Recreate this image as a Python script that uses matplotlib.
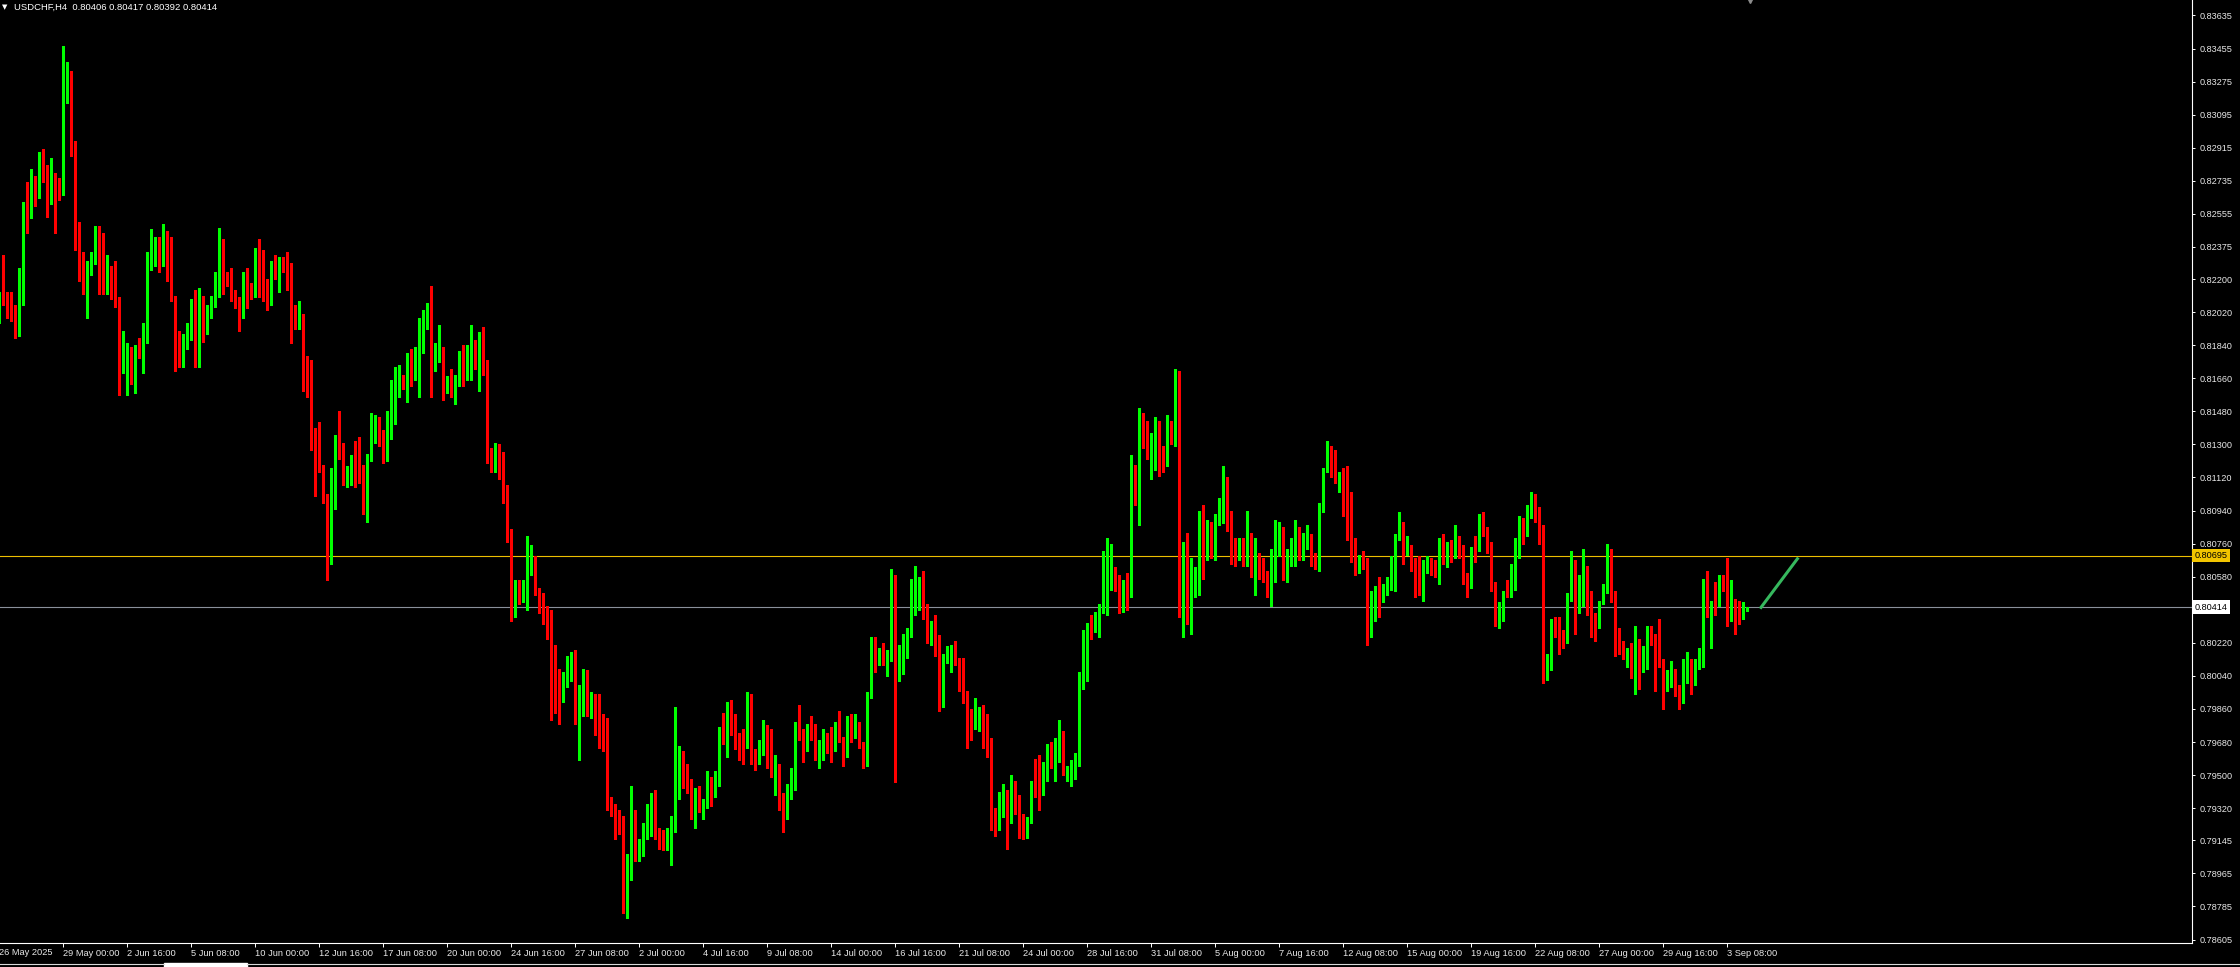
import matplotlib
matplotlib.use("Agg")
import matplotlib.pyplot as plt
import numpy as np
from matplotlib.patches import Rectangle
from matplotlib.lines import Line2D
from matplotlib.transforms import blended_transform_factory, offset_copy

plt.rcParams['font.family'] = ['Liberation Sans', 'DejaVu Sans']

symbol = "USDCHF"
timeframe = "H4"

# H4 bars, prices in pips (1 pip = 0.0001)
opens = [
    8199, 8211, 8210, 8207, 8202, 8197, 8216, 8260, 8253, 8273,
    8268, 8279, 8278, 8269, 8277, 8267, 8267, 8323, 8329, 8293,
    8241, 8224, 8221, 8225, 8228, 8240, 8238, 8217, 8219, 8218,
    8206, 8169, 8176, 8182, 8166, 8183, 8178, 8185, 8231, 8234,
    8236, 8229, 8242, 8238, 8209, 8178, 8178, 8187, 8193, 8198,
    8175, 8200, 8191, 8203, 8207, 8214, 8239, 8224, 8217, 8211,
    8207, 8203, 8215, 8212, 8213, 8235, 8218, 8211, 8207, 8227,
    8225, 8229, 8225, 8220, 8205, 8198, 8200, 8168, 8158, 8137,
    8125, 8118, 8102, 8076, 8099, 8132, 8129, 8113, 8110, 8118,
    8111, 8110, 8097, 8122, 8133, 8140, 8132, 8126, 8143, 8157,
    8161, 8165, 8162, 8178, 8174, 8177, 8181, 8202, 8203, 8172,
    8178, 8180, 8162, 8164, 8160, 8165, 8173, 8168, 8171, 8187,
    8172, 8182, 8173, 8124, 8120, 8130, 8112, 8102, 8081, 8042,
    8049, 8046, 8048, 8065, 8068, 8051, 8044, 8036, 8033, 8003,
    7993, 7992, 7998, 8005, 8011, 7982, 7988, 8001, 7985, 7987,
    7982, 7975, 7973, 7937, 7930, 7930, 7920, 7881, 7893, 7926,
    7907, 7913, 7919, 7922, 7931, 7918, 7911, 7911, 7918, 7927,
    7946, 7957, 7951, 7947, 7926, 7933, 7931, 7934, 7944, 7940,
    7947, 7973, 7970, 7987, 7980, 7971, 7970, 7965, 7991, 7958,
    7956, 7964, 7970, 7959, 7952, 7953, 7932, 7928, 7939, 7942,
    7974, 7974, 7964, 7977, 7972, 7958, 7963, 7967, 7968, 7965,
    7974, 7970, 7962, 7982, 7976, 7978, 7966, 7959, 7992, 8024,
    8012, 8015, 8012, 8016, 8051, 8002, 8006, 8014, 8026, 8042,
    8048, 8056, 8041, 8026, 8032, 8026, 7989, 8013, 8006, 8020,
    8013, 8007, 7994, 7981, 7975, 7982, 7983, 7972, 7964, 7930,
    7920, 7936, 7942, 7925, 7940, 7939, 7922, 7918, 7925, 7944,
    7944, 7939, 7953, 7964, 7957, 7967, 7969, 7951, 7950, 7956,
    7961, 8001, 8024, 8029, 8029, 8032, 8041, 8049, 8055, 8061,
    8053, 8044, 8055, 8049, 8118, 8098, 8144, 8132, 8125, 8135,
    8141, 8128, 8120, 8142, 8138, 8164, 8037, 8074, 8035, 8058,
    8060, 8092, 8074, 8080, 8075, 8086, 8099, 8105, 8087, 8074,
    8070, 8077, 8070, 8081, 8060, 8069, 8060, 8057, 8050, 8062,
    8074, 8078, 8058, 8069, 8077, 8080, 8075, 8079, 8076, 8070,
    8064, 8094, 8116, 8123, 8117, 8111, 8111, 8108, 8093, 8076,
    8061, 8068, 8065, 8027, 8045, 8052, 8045, 8048, 8055, 8063,
    8078, 8086, 8071, 8074, 8061, 8055, 8053, 8061, 8061, 8061,
    8059, 8074, 8071, 8077, 8071, 8079, 8073, 8058, 8053, 8073,
    8072, 8088, 8083, 8073, 8053, 8033, 8035, 8050, 8048, 8054,
    8075, 8084, 8080, 8094, 8101, 8092, 8083, 8004, 8008, 8034,
    8033, 8024, 8022, 8046, 8056, 8042, 8051, 8058, 8043, 8037,
    8031, 8043, 8051, 8069, 8049, 8021, 8020, 8015, 8018, 8008,
    8016, 8006, 8008, 8031, 8022, 8014, 8009, 7997, 7999, 8008,
    7994, 7993, 8006, 8012, 8003, 8012, 8016, 8050, 8036, 8045,
    8042, 8056, 8052, 8035, 8046, 8040, 8039, 8040.6,
]
highs = [
    8213, 8233, 8213, 8213, 8206, 8226, 8262, 8273, 8280, 8276,
    8289, 8291, 8282, 8286, 8278, 8275, 8347, 8338, 8333, 8295,
    8251, 8235, 8230, 8235, 8249, 8249, 8245, 8233, 8227, 8230,
    8210, 8192, 8185, 8183, 8184, 8188, 8196, 8235, 8247, 8243,
    8243, 8250, 8246, 8243, 8211, 8192, 8190, 8196, 8209, 8214,
    8215, 8211, 8206, 8211, 8224, 8248, 8242, 8224, 8226, 8214,
    8210, 8224, 8226, 8218, 8237, 8242, 8236, 8220, 8230, 8233,
    8232, 8232, 8235, 8229, 8206, 8208, 8201, 8178, 8176, 8139,
    8142, 8119, 8103, 8117, 8135, 8148, 8131, 8118, 8124, 8132,
    8134, 8119, 8125, 8147, 8146, 8145, 8138, 8148, 8165, 8172,
    8173, 8168, 8180, 8182, 8183, 8199, 8203, 8207, 8216, 8185,
    8195, 8183, 8167, 8171, 8168, 8181, 8184, 8184, 8195, 8187,
    8191, 8194, 8176, 8128, 8131, 8130, 8126, 8108, 8084, 8056,
    8056, 8056, 8080, 8075, 8069, 8052, 8049, 8042, 8040, 8021,
    8008, 8006, 8015, 8017, 8018, 7999, 8008, 8007, 7995, 7994,
    7994, 7983, 7981, 7938, 7934, 7931, 7928, 7907, 7944, 7931,
    7915, 7924, 7934, 7940, 7942, 7921, 7920, 7921, 7928, 7987,
    7966, 7963, 7956, 7948, 7943, 7944, 7937, 7952, 7949, 7952,
    7976, 7984, 7990, 7991, 7983, 7973, 7975, 7995, 7994, 7964,
    7969, 7980, 7977, 7975, 7961, 7956, 7940, 7945, 7954, 7979,
    7988, 7975, 7978, 7982, 7978, 7969, 7975, 7973, 7976, 7979,
    7985, 7971, 7982, 7983, 7983, 7979, 7968, 7995, 8025, 8025,
    8019, 8022, 8018, 8062, 8059, 8021, 8027, 8030, 8057, 8064,
    8058, 8061, 8043, 8034, 8037, 8026, 8016, 8020, 8021, 8023,
    8014, 8014, 7996, 7986, 7992, 7987, 7988, 7983, 7970, 7932,
    7941, 7945, 7942, 7950, 7947, 7939, 7929, 7927, 7947, 7959,
    7961, 7957, 7967, 7968, 7970, 7980, 7974, 7955, 7958, 7962,
    8006, 8029, 8033, 8037, 8039, 8043, 8072, 8079, 8076, 8063,
    8059, 8056, 8060, 8124, 8119, 8150, 8147, 8143, 8136, 8145,
    8143, 8129, 8146, 8143, 8171, 8170, 8077, 8082, 8068, 8063,
    8094, 8097, 8089, 8088, 8092, 8101, 8118, 8112, 8094, 8079,
    8079, 8079, 8094, 8082, 8079, 8071, 8068, 8061, 8073, 8089,
    8088, 8085, 8073, 8079, 8089, 8085, 8082, 8086, 8081, 8071,
    8098, 8117, 8132, 8129, 8127, 8115, 8117, 8118, 8104, 8079,
    8070, 8072, 8068, 8050, 8053, 8058, 8054, 8058, 8069, 8081,
    8093, 8088, 8080, 8075, 8068, 8069, 8067, 8069, 8068, 8067,
    8079, 8081, 8077, 8078, 8086, 8080, 8075, 8060, 8074, 8080,
    8092, 8093, 8085, 8077, 8055, 8044, 8050, 8056, 8065, 8079,
    8091, 8090, 8097, 8104, 8103, 8096, 8086, 8016, 8035, 8036,
    8036, 8029, 8049, 8072, 8067, 8059, 8073, 8064, 8050, 8038,
    8045, 8054, 8076, 8073, 8050, 8030, 8023, 8019, 8022, 8031,
    8024, 8020, 8031, 8031, 8027, 8035, 8013, 8007, 8012, 8008,
    7999, 8013, 8017, 8013, 8013, 8019, 8057, 8061, 8045, 8055,
    8059, 8059, 8068, 8056, 8046, 8045, 8044, 8041.7,
]
lows = [
    8196, 8206, 8199, 8197, 8188, 8189, 8206, 8245, 8253, 8260,
    8264, 8273, 8254, 8261, 8245, 8263, 8266, 8316, 8287, 8236,
    8219, 8212, 8199, 8222, 8228, 8212, 8212, 8212, 8209, 8205,
    8157, 8169, 8157, 8163, 8158, 8177, 8169, 8185, 8225, 8227,
    8224, 8227, 8219, 8208, 8170, 8172, 8172, 8182, 8187, 8172,
    8172, 8186, 8190, 8199, 8205, 8210, 8212, 8216, 8208, 8204,
    8192, 8199, 8204, 8209, 8210, 8210, 8208, 8203, 8206, 8220,
    8213, 8224, 8214, 8185, 8193, 8193, 8159, 8156, 8127, 8102,
    8115, 8098, 8056, 8065, 8095, 8122, 8108, 8107, 8108, 8107,
    8109, 8092, 8088, 8121, 8131, 8129, 8120, 8121, 8133, 8141,
    8156, 8160, 8153, 8162, 8165, 8156, 8180, 8193, 8156, 8170,
    8175, 8154, 8158, 8156, 8152, 8162, 8162, 8165, 8165, 8171,
    8159, 8168, 8120, 8115, 8115, 8111, 8098, 8077, 8034, 8036,
    8043, 8044, 8040, 8059, 8048, 8038, 8032, 8024, 7980, 7984,
    7978, 7990, 7998, 8001, 7978, 7958, 7982, 7982, 7981, 7972,
    7965, 7963, 7931, 7928, 7915, 7918, 7875, 7872, 7893, 7903,
    7903, 7906, 7915, 7917, 7915, 7910, 7909, 7909, 7901, 7919,
    7937, 7943, 7940, 7926, 7921, 7930, 7926, 7932, 7933, 7938,
    7944, 7967, 7960, 7972, 7964, 7958, 7956, 7965, 7956, 7953,
    7956, 7961, 7954, 7949, 7939, 7931, 7919, 7926, 7937, 7942,
    7969, 7957, 7963, 7969, 7958, 7954, 7958, 7962, 7957, 7963,
    7968, 7955, 7960, 7968, 7970, 7965, 7954, 7955, 7992, 8006,
    8010, 8010, 8004, 8012, 7946, 8001, 8005, 8014, 8025, 8037,
    8040, 8035, 8022, 8021, 8015, 7985, 7987, 8011, 8006, 8010,
    7996, 7989, 7965, 7969, 7975, 7974, 7965, 7960, 7920, 7917,
    7920, 7927, 7910, 7924, 7929, 7916, 7915, 7916, 7924, 7938,
    7931, 7939, 7947, 7954, 7947, 7957, 7950, 7947, 7944, 7948,
    7955, 7997, 8001, 8024, 8028, 8025, 8038, 8037, 8051, 8050,
    8038, 8039, 8040, 8047, 8097, 8086, 8128, 8122, 8111, 8116,
    8113, 8115, 8118, 8130, 8129, 8036, 8025, 8032, 8027, 8047,
    8048, 8057, 8067, 8068, 8067, 8086, 8087, 8083, 8065, 8064,
    8067, 8064, 8064, 8058, 8048, 8057, 8055, 8047, 8042, 8055,
    8069, 8056, 8055, 8064, 8064, 8067, 8067, 8073, 8064, 8062,
    8061, 8093, 8115, 8112, 8109, 8104, 8091, 8078, 8066, 8059,
    8060, 8062, 8021, 8025, 8034, 8036, 8044, 8048, 8051, 8050,
    8078, 8065, 8070, 8061, 8047, 8048, 8045, 8060, 8059, 8058,
    8054, 8065, 8063, 8066, 8068, 8068, 8054, 8047, 8052, 8066,
    8072, 8080, 8071, 8050, 8031, 8030, 8034, 8047, 8047, 8051,
    8068, 8076, 8080, 8090, 8088, 8076, 8000, 8002, 8007, 8025,
    8016, 8019, 8022, 8045, 8027, 8038, 8042, 8037, 8025, 8023,
    8030, 8043, 8049, 8044, 8015, 8016, 8013, 8009, 8003, 7994,
    7997, 8006, 8008, 8021, 7996, 8009, 7986, 7996, 7998, 7993,
    7986, 7989, 8000, 7994, 7999, 8008, 8009, 8036, 8019, 8037,
    8042, 8050, 8031, 8034, 8027, 8032, 8035, 8039.2,
]
closes = [
    8211, 8209, 8207, 8200, 8197, 8216, 8260, 8252, 8273, 8268,
    8279, 8277, 8269, 8277, 8267, 8264, 8323, 8329, 8293, 8241,
    8223, 8220, 8226, 8228, 8240, 8238, 8217, 8231, 8217, 8206,
    8170, 8179, 8181, 8166, 8183, 8178, 8186, 8232, 8234, 8235,
    8229, 8242, 8238, 8216, 8178, 8177, 8187, 8194, 8198, 8175,
    8200, 8190, 8205, 8208, 8214, 8239, 8223, 8222, 8211, 8207,
    8203, 8215, 8212, 8211, 8235, 8218, 8211, 8207, 8227, 8225,
    8229, 8225, 8219, 8205, 8198, 8199, 8168, 8158, 8137, 8124,
    8117, 8101, 8076, 8100, 8132, 8129, 8113, 8114, 8119, 8110,
    8109, 8097, 8122, 8130, 8140, 8132, 8126, 8143, 8158, 8160,
    8165, 8162, 8178, 8174, 8176, 8183, 8203, 8203, 8172, 8178,
    8180, 8163, 8164, 8160, 8166, 8173, 8168, 8180, 8186, 8171,
    8182, 8173, 8123, 8117, 8130, 8111, 8102, 8080, 8042, 8047,
    8046, 8048, 8066, 8068, 8050, 8042, 8035, 8033, 8002, 7992,
    7991, 7997, 8006, 8011, 7983, 7989, 8001, 7985, 7987, 7982,
    7975, 7973, 7937, 7929, 7929, 7920, 7881, 7893, 7926, 7905,
    7914, 7920, 7926, 7931, 7917, 7912, 7910, 7919, 7927, 7946,
    7957, 7951, 7947, 7926, 7933, 7931, 7934, 7944, 7941, 7948,
    7973, 7970, 7987, 7978, 7971, 7970, 7965, 7983, 7958, 7956,
    7964, 7970, 7958, 7952, 7953, 7932, 7927, 7940, 7943, 7975,
    7973, 7962, 7977, 7971, 7958, 7963, 7967, 7966, 7965, 7974,
    7969, 7962, 7982, 7973, 7978, 7965, 7959, 7993, 8024, 8011,
    8015, 8011, 8017, 8051, 8003, 8007, 8014, 8026, 8042, 8049,
    8056, 8040, 8027, 8032, 8025, 7989, 8013, 8015, 8020, 8012,
    8006, 7994, 7980, 7974, 7983, 7983, 7972, 7963, 7930, 7919,
    7937, 7942, 7925, 7940, 7939, 7921, 7918, 7925, 7944, 7943,
    7939, 7951, 7964, 7957, 7968, 7969, 7951, 7953, 7956, 7961,
    8001, 8025, 8029, 8027, 8033, 8042, 8050, 8055, 8061, 8051,
    8044, 8055, 8049, 8118, 8097, 8143, 8131, 8125, 8136, 8141,
    8127, 8119, 8142, 8138, 8164, 8037, 8074, 8035, 8058, 8061,
    8092, 8074, 8080, 8073, 8087, 8100, 8104, 8087, 8074, 8069,
    8077, 8070, 8081, 8060, 8069, 8060, 8057, 8051, 8062, 8075,
    8078, 8056, 8068, 8077, 8079, 8075, 8079, 8082, 8070, 8064,
    8095, 8117, 8123, 8115, 8111, 8111, 8108, 8093, 8075, 8061,
    8068, 8064, 8027, 8046, 8052, 8045, 8049, 8055, 8063, 8079,
    8086, 8070, 8074, 8061, 8055, 8053, 8062, 8068, 8060, 8059,
    8074, 8071, 8077, 8071, 8079, 8073, 8057, 8053, 8073, 8071,
    8088, 8082, 8072, 8053, 8033, 8035, 8050, 8048, 8054, 8075,
    8084, 8079, 8094, 8101, 8092, 8083, 8004, 8014, 8034, 8033,
    8023, 8022, 8046, 8053, 8042, 8051, 8058, 8042, 8036, 8030,
    8044, 8051, 8069, 8049, 8020, 8018, 8015, 8018, 8008, 8016,
    8006, 8009, 8031, 8021, 8013, 8009, 7997, 8006, 8008, 7993,
    7993, 8007, 8012, 8002, 8012, 8017, 8050, 8037, 8045, 8042,
    8056, 8052, 8035, 8045, 8040, 8037, 8041, 8041.4,
]

level_line = 0.80695   # horizontal line (yellow)
bid_line = 0.80414     # current bid

# drawn trend line: bar index / price
trend_x = [440.2, 449.75]
trend_y = [0.80406, 0.80684]

price_ticks = [0.83635, 0.83455, 0.83275, 0.83095, 0.82915, 0.82735, 0.82555,
               0.82375, 0.82200, 0.82020, 0.81840, 0.81660, 0.81480, 0.81300,
               0.81120, 0.80940, 0.80760, 0.80580, 0.80220, 0.80040, 0.79860,
               0.79680, 0.79500, 0.79320, 0.79145, 0.78965, 0.78785, 0.78605]

first_date = "26 May 2025"
date_labels = ["29 May 00:00", "2 Jun 16:00", "5 Jun 08:00", "10 Jun 00:00",
               "12 Jun 16:00", "17 Jun 08:00", "20 Jun 00:00", "24 Jun 16:00",
               "27 Jun 08:00", "2 Jul 00:00", "4 Jul 16:00", "9 Jul 08:00",
               "14 Jul 00:00", "16 Jul 16:00", "21 Jul 08:00", "24 Jul 00:00",
               "28 Jul 16:00", "31 Jul 08:00", "5 Aug 00:00", "7 Aug 16:00",
               "12 Aug 08:00", "15 Aug 00:00", "19 Aug 16:00", "22 Aug 08:00",
               "27 Aug 00:00", "29 Aug 16:00", "3 Sep 08:00"]
date_step = 16  # one label every 16 bars

o = np.array(opens) / 10000
h = np.array(highs) / 10000
l = np.array(lows) / 10000
c = np.array(closes) / 10000
x = np.arange(len(c))
up = c >= o
cols = np.where(up, '#00ff00', '#ff0000')

W, H = 2240, 967
fig = plt.figure(figsize=(W / 100, H / 100), dpi=100, facecolor='black')
ax = fig.add_axes([0, (H - 943) / H, 2192 / W, 943 / H], facecolor='black')

# candles
ax.vlines(x, l, h, colors=cols, linewidth=0.8, antialiased=False, zorder=2)
body = np.maximum(np.abs(c - o), 0.00005)
ax.bar(x, body, bottom=np.minimum(o, c), width=0.8, color=cols,
       linewidth=0, antialiased=False, zorder=3)

ax.axhline(level_line, color='#eebf00', lw=0.8, zorder=1)
ax.axhline(bid_line, color='#8a909a', lw=0.8, zorder=1)
ax.plot(trend_x, trend_y, color='#36b85e', lw=2.2, solid_capstyle='butt', zorder=4)

ax.set_xlim(0.175, 548.175)
ax.set_ylim(0.78586, 0.83719)

# axes look
for s in ['top', 'left']:
    ax.spines[s].set_visible(False)
for s in ['right', 'bottom']:
    ax.spines[s].set_color('white')
    ax.spines[s].set_linewidth(0.8)

ax.yaxis.tick_right()
ax.set_yticks(price_ticks)
ax.set_yticklabels([f"{v:.5f}" for v in price_ticks])
ax.tick_params(axis='y', colors='white', labelcolor='#e8e8e8', length=2.5,
               width=0.7, pad=3, labelsize=6.6)

xt = [date_step * (k + 1) for k in range(len(date_labels))]
ax.set_xticks(xt)
ax.set_xticklabels(date_labels)
ax.tick_params(axis='x', colors='white', labelcolor='#e8e8e8', length=3,
               width=0.7, pad=1.5, labelsize=6.7)
for t in ax.get_xticklabels():
    t.set_ha('left')

tr = offset_copy(ax.transAxes, fig=fig, x=-1, y=-(2.16 + 1.5), units='points')
ax.text(0, 0, first_date, transform=tr, ha='left', va='top',
        fontsize=6.7, color='#e8e8e8')

# price boxes on the right scale
bt = blended_transform_factory(ax.transAxes, ax.transData)
ax.text(1.0012, level_line, f"{level_line:.5f}", transform=bt, ha='left',
        va='center', fontsize=6.6, color='black', zorder=6, clip_on=False,
        bbox=dict(boxstyle='square,pad=0.25', fc='#f2c500', ec='none'))
ax.text(1.0012, bid_line, f"{bid_line:.5f}", transform=bt, ha='left',
        va='center', fontsize=6.6, color='black', zorder=6, clip_on=False,
        bbox=dict(boxstyle='square,pad=0.25', fc='white', ec='none'))

# header
header = f"{symbol},{timeframe}  " + " ".join(f"{v:.5f}" for v in (o[-1], h[-1], l[-1], c[-1]))
fig.text(2 / W, 1 - 7 / H, "\u25bc", fontsize=5, color='white', va='center',
         family=['DejaVu Sans'])
fig.text(14 / W, 1 - 7 / H, header, fontsize=6.8, color='white', va='center')

# chart shift marker
ax.plot([x[-1] + 0.7], [0.83719], marker='v', color='#8c8c8c', ms=4,
        clip_on=False, zorder=5)

# tab strip at the bottom
yb = 1 - 963.5 / H
fig.add_artist(Line2D([0, 164 / W], [yb, yb], color='#d8d8d8', lw=0.8))
fig.add_artist(Line2D([247 / W, 1], [yb, yb], color='#d8d8d8', lw=0.8))
fig.add_artist(Rectangle((164 / W, 0), 83 / W, 4 / H, color='white'))

fig.savefig("out.png", dpi=100, facecolor='black')
